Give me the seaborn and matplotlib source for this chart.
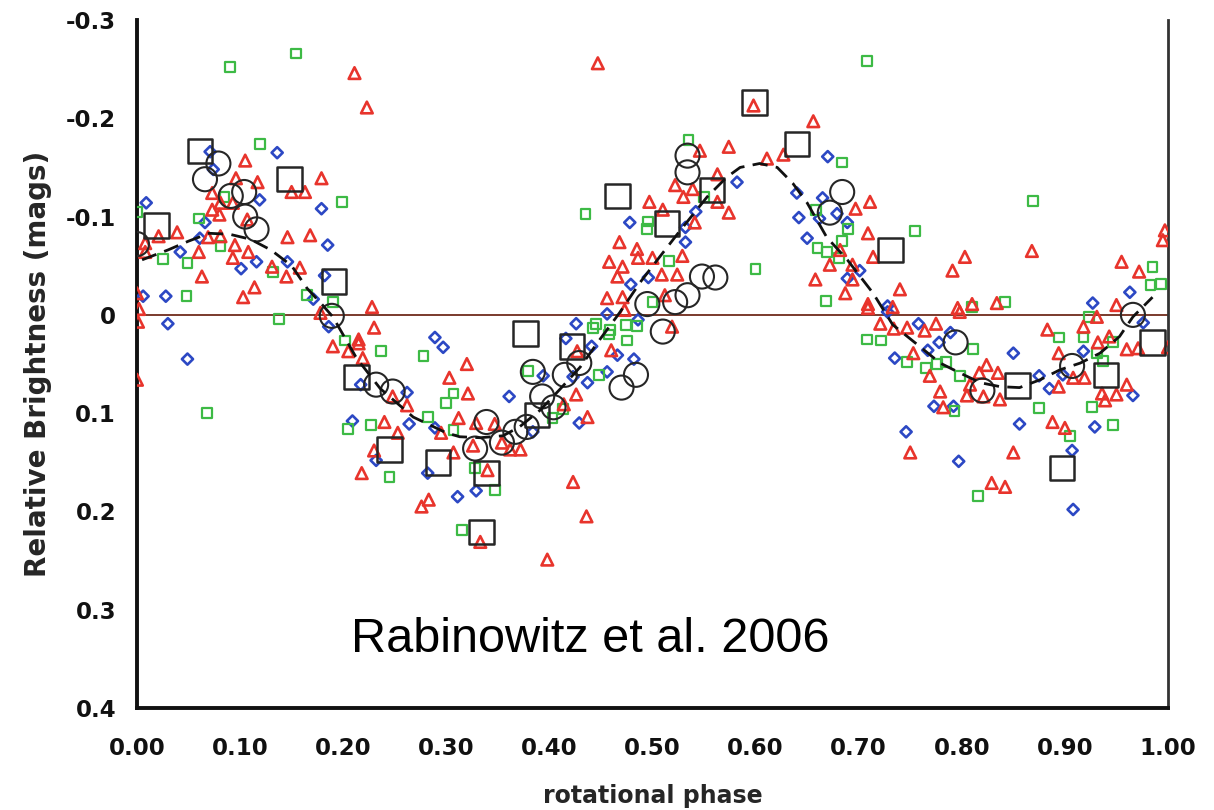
import numpy as np
import pandas as pd
import matplotlib
matplotlib.use("Agg")
import matplotlib.pyplot as plt
import seaborn as sns

# --- single-night photometry, red triangles ---
red_phase = [0.211, 0.223, 0.105, 0.096, 0.117, 0.179, 0.150, 0.163, 0.073, 0.081,
             0.093, 0.073, 0.080, 0.107, 0.039, 0.021, 0.069, 0.081, 0.146, 0.168,
             0.008, 0.008, 0.095, 0.060, 0.108, 0.093, 0.131, 0.158, 0.145, 0.063,
             0.114, 0.103, 0.000, 0.228, 0.002, 0.001, 0.000,
             0.447, 0.468, 0.497, 0.458, 0.471, 0.485, 0.486, 0.466, 0.456, 0.471,
             0.598, 0.656, 0.574, 0.546, 0.611, 0.627, 0.563, 0.522, 0.539, 0.530,
             0.510, 0.711, 0.697, 0.563, 0.574, 0.541, 0.709, 0.714, 0.500, 0.529,
             0.509, 0.524, 0.658, 0.672, 0.694, 0.694, 0.682, 0.740, 0.687, 0.709,
             0.512,
             0.997, 0.995, 0.868, 0.803, 0.791, 0.955, 0.972, 0.810, 0.834, 0.950,
             0.796,
             0.230, 0.215, 0.215, 0.190, 0.205, 0.219, 0.240, 0.230, 0.218, 0.178,
             0.320, 0.303, 0.321, 0.248, 0.262, 0.312, 0.329, 0.347, 0.295, 0.253,
             0.326, 0.354, 0.362, 0.372, 0.307, 0.340, 0.426, 0.414, 0.437, 0.423,
             0.436, 0.276, 0.283, 0.333, 0.398, 0.427, 0.460, 0.473,
             0.519, 0.721, 0.734, 0.747, 0.709, 0.733, 0.750,
             0.764, 0.775, 0.753, 0.769, 0.779, 0.805, 0.808, 0.817, 0.824, 0.835,
             0.821, 0.837, 0.782, 0.883, 0.894, 0.918, 0.931, 0.894, 0.908, 0.919,
             0.936, 0.939, 0.950, 0.960, 0.932, 0.943, 0.960, 0.971, 1.000, 0.888,
             0.900, 0.850, 0.829, 0.842, 0.798]
red_mag = [-0.246, -0.211, -0.157, -0.139, -0.135, -0.139, -0.125, -0.125, -0.124, -0.114,
           -0.114, -0.107, -0.102, -0.097, -0.084, -0.080, -0.079, -0.080, -0.079, -0.081,
           -0.073, -0.064, -0.071, -0.064, -0.064, -0.058, -0.049, -0.048, -0.039, -0.039,
           -0.028, -0.018, -0.022, -0.008, -0.006, 0.007, 0.066,
           -0.256, -0.074, -0.115, -0.054, -0.049, -0.067, -0.058, -0.039, -0.017, -0.018,
           -0.213, -0.197, -0.171, -0.167, -0.159, -0.163, -0.143, -0.132, -0.128, -0.120,
           -0.107, -0.115, -0.108, -0.115, -0.104, -0.094, -0.083, -0.059, -0.058, -0.060,
           -0.041, -0.041, -0.036, -0.051, -0.051, -0.036, -0.066, -0.026, -0.022, -0.011,
           -0.020,
           -0.086, -0.076, -0.065, -0.059, -0.045, -0.054, -0.044, -0.011, -0.012, -0.010,
           -0.007,
           0.013, 0.025, 0.029, 0.032, 0.037, 0.044, 0.109, 0.138, 0.161, -0.002,
           0.050, 0.064, 0.080, 0.083, 0.092, 0.105, 0.110, 0.111, 0.120, 0.120,
           0.133, 0.130, 0.137, 0.137, 0.140, 0.158, 0.081, 0.091, 0.104, 0.170,
           0.205, 0.195, 0.188, 0.231, 0.249, 0.037, 0.036, -0.005,
           0.012, 0.009, 0.014, 0.013, -0.007, -0.008, 0.140,
           0.016, 0.009, 0.039, 0.062, 0.078, 0.082, 0.071, 0.059, 0.051, 0.059,
           0.083, 0.086, 0.094, 0.015, 0.039, 0.012, 0.002, 0.073, 0.064, 0.064,
           0.080, 0.087, 0.081, 0.071, 0.028, 0.022, 0.035, 0.034, 0.033, 0.109,
           0.115, 0.140, 0.171, 0.175, -0.003]

# --- blue diamonds ---
blue_phase = [0.071, 0.136, 0.074, 0.119, 0.009, 0.179, 0.066, 0.185, 0.042, 0.061,
              0.116, 0.146, 0.101, 0.182, 0.006, 0.028, 0.171,
              0.478, 0.479, 0.496,
              0.670, 0.582, 0.640, 0.665, 0.679, 0.642, 0.662, 0.689, 0.542, 0.532,
              0.532, 0.650, 0.701, 0.689, 0.728,
              0.963, 0.927,
              0.030, 0.049, 0.186, 0.217, 0.209, 0.232,
              0.289, 0.297, 0.264, 0.289, 0.282, 0.311, 0.329, 0.361, 0.384, 0.394,
              0.423, 0.437, 0.429, 0.456, 0.416, 0.426, 0.441, 0.466, 0.482, 0.456,
              0.486, 0.262,
              0.735, 0.746, 0.728,
              0.758, 0.789, 0.778, 0.767, 0.850, 0.875, 0.885, 0.898, 0.918, 0.966,
              0.773, 0.792, 0.856, 0.929, 0.797, 0.907, 0.908, 0.976]
blue_mag = [-0.166, -0.165, -0.148, -0.117, -0.114, -0.108, -0.094, -0.071, -0.064, -0.078,
            -0.054, -0.054, -0.047, -0.040, -0.019, -0.019, -0.016,
            -0.094, -0.031, -0.038,
            -0.161, -0.135, -0.124, -0.119, -0.103, -0.099, -0.098, -0.094, -0.105, -0.089,
            -0.074, -0.078, -0.045, -0.037, -0.009,
            -0.023, -0.012,
            0.009, 0.045, 0.012, 0.071, 0.108, 0.148,
            0.023, 0.033, 0.111, 0.115, 0.161, 0.185, 0.179, 0.083, 0.119, 0.062,
            0.063, 0.069, 0.110, 0.058, 0.024, 0.009, 0.032, 0.041, 0.045, -0.001,
            0.005, 0.079,
            0.044, 0.119, -0.003,
            0.009, 0.018, 0.028, 0.036, 0.039, 0.062, 0.075, 0.061, 0.037, 0.082,
            0.093, 0.093, 0.111, 0.114, 0.149, 0.138, 0.198, 0.008]

# --- green squares ---
green_phase = [0.090, 0.154, 0.119, 0.199, 0.000, 0.060, 0.081, 0.025, 0.049, 0.048,
               0.165, 0.190, 0.132, 0.085,
               0.435, 0.496, 0.495,
               0.708, 0.535, 0.684, 0.550, 0.659, 0.690, 0.684, 0.660, 0.669, 0.681,
               0.516, 0.600, 0.500, 0.668,
               0.869, 0.755, 0.985, 0.983, 0.993, 0.842, 0.810,
               0.138, 0.068, 0.202, 0.237, 0.205, 0.227, 0.245,
               0.278, 0.307, 0.300, 0.282, 0.307, 0.328, 0.347, 0.315, 0.379, 0.403,
               0.413, 0.448, 0.442, 0.445, 0.459, 0.458, 0.474, 0.485, 0.475,
               0.708, 0.722, 0.747,
               0.811, 0.765, 0.776, 0.785, 0.798, 0.793, 0.875, 0.894, 0.918, 0.926,
               0.947, 0.905, 0.816, 0.923, 0.937, 0.947, 0.931]
green_mag = [-0.252, -0.266, -0.174, -0.115, -0.105, -0.098, -0.070, -0.057, -0.053, -0.019,
             -0.020, -0.013, -0.044, -0.120,
             -0.103, -0.095, -0.087,
             -0.258, -0.178, -0.155, -0.120, -0.107, -0.087, -0.075, -0.068, -0.064, -0.058,
             -0.055, -0.047, -0.013, -0.014,
             -0.116, -0.085, -0.049, -0.030, -0.031, -0.013, -0.008,
             0.004, 0.100, 0.026, 0.037, 0.116, 0.112, 0.165,
             0.042, 0.080, 0.090, 0.104, 0.117, 0.156, 0.178, 0.219, 0.057, 0.105,
             0.096, 0.061, 0.013, 0.009, 0.015, 0.020, 0.010, 0.011, 0.026,
             0.025, 0.026, 0.048,
             0.035, 0.054, 0.050, 0.048, 0.062, 0.098, 0.095, 0.023, 0.023, 0.094,
             0.112, 0.123, 0.184, 0.002, 0.047, 0.028, 0.039]

# --- binned means, open circles ---
circle_phase = [0.000, 0.066, 0.079, 0.091, 0.104, 0.105, 0.116, 0.189, 0.232, 0.248,
                0.339, 0.328, 0.354, 0.367, 0.378, 0.384, 0.393, 0.404, 0.415, 0.429,
                0.470, 0.484, 0.495, 0.510, 0.522, 0.534, 0.548, 0.561, 0.534, 0.534,
                0.672, 0.684, 0.794, 0.820, 0.907, 0.966]
circle_mag = [-0.072, -0.138, -0.154, -0.121, -0.125, -0.100, -0.087, 0.001, 0.071, 0.078,
              0.109, 0.136, 0.130, 0.119, 0.114, 0.058, 0.083, 0.094, 0.061, 0.049,
              0.074, 0.061, -0.011, 0.017, -0.013, -0.020, -0.039, -0.038, -0.145, -0.162,
              -0.104, -0.125, 0.028, 0.077, 0.052, 0.000]

# --- binned means, open squares ---
square_phase = [0.019, 0.061, 0.148, 0.191, 0.213, 0.245, 0.292, 0.334, 0.339, 0.377,
                0.388, 0.422, 0.466, 0.514, 0.558, 0.599, 0.640, 0.731, 0.854, 0.897,
                0.940, 0.985]
square_mag = [-0.091, -0.167, -0.138, -0.034, 0.063, 0.137, 0.150, 0.221, 0.161, 0.019,
              0.102, 0.032, -0.121, -0.093, -0.127, -0.216, -0.174, -0.066, 0.072, 0.156,
              0.061, 0.028]

# --- smoothed light curve ---
fit_phase = [0.005, 0.030, 0.050, 0.070, 0.090, 0.110, 0.130, 0.150, 0.165, 0.180,
             0.190, 0.213, 0.236, 0.268, 0.300, 0.313, 0.333, 0.355, 0.371, 0.391,
             0.410, 0.430, 0.449, 0.468, 0.488, 0.507, 0.527, 0.553, 0.572, 0.585,
             0.604, 0.621, 0.636, 0.650, 0.669, 0.689, 0.714, 0.733, 0.759, 0.779,
             0.798, 0.818, 0.837, 0.856, 0.876, 0.895, 0.915, 0.934, 0.953, 0.966,
             0.985]
fit_mag = [-0.056, -0.066, -0.075, -0.083, -0.082, -0.077, -0.066, -0.050, -0.027, -0.010,
           0.002, 0.044, 0.075, 0.104, 0.120, 0.124, 0.125, 0.123, 0.114, 0.097,
           0.076, 0.053, 0.025, -0.002, -0.033, -0.059, -0.086, -0.120, -0.140, -0.150,
           -0.154, -0.150, -0.134, -0.114, -0.079, -0.056, -0.022, 0.010, 0.032, 0.049,
           0.059, 0.069, 0.073, 0.074, 0.066, 0.056, 0.049, 0.039, 0.022, 0.002,
           -0.018]

x_ticks = [0.0, 0.1, 0.2, 0.3, 0.4, 0.5, 0.6, 0.7, 0.8, 0.9, 1.0]
y_ticks = [-0.3, -0.2, -0.1, 0.0, 0.1, 0.2, 0.3, 0.4]
y_tick_labels = ["-0.3", "-0.2", "-0.1", "0", "0.1", "0.2", "0.3", "0.4"]

RED = "#e8342c"
BLUE = "#2c48c4"
GREEN = "#3dba45"
DARK = "#262626"

sns.set_style("white")
plt.rcParams["font.family"] = ["DejaVu Sans"]

fig = plt.figure(figsize=(12.14, 8.10), dpi=100)
ax = fig.add_axes([0.1128, 0.1259, 0.8493, 0.8494])

ax.axhline(0.0, color="#7a3a2c", lw=1.4, zorder=1)

def hollow(xs, ys, marker, size, color, lw, z):
    df = pd.DataFrame({"phase": xs, "mag": ys})
    sns.scatterplot(data=df, x="phase", y="mag", marker=marker, s=size,
                    color=color, facecolor="none", edgecolor=color,
                    linewidth=lw, ax=ax, zorder=z, legend=False)

hollow(blue_phase, blue_mag, "D", 32, BLUE, 1.9, 3)
hollow(green_phase, green_mag, "s", 50, GREEN, 1.6, 3)
hollow(red_phase, red_mag, "^", 70, RED, 1.9, 4)
hollow(circle_phase, circle_mag, "o", 300, DARK, 1.5, 5)
hollow(square_phase, square_mag, "s", 310, DARK, 1.8, 5)

fit_df = pd.DataFrame({"phase": fit_phase, "mag": fit_mag})
sns.lineplot(data=fit_df, x="phase", y="mag", ax=ax, color="#111111", lw=2.0,
             dashes=False, linestyle=(0, (5.5, 3)), zorder=6, estimator=None, sort=False)

ax.set_xlim(0.0, 1.0)
ax.set_ylim(0.4, -0.3)
ax.set_xticks(x_ticks)
ax.set_xticklabels([f"{t:.2f}" for t in x_ticks])
ax.set_yticks(y_ticks)
ax.set_yticklabels(y_tick_labels)

for lab in ax.get_xticklabels() + ax.get_yticklabels():
    lab.set_fontweight("heavy")
    lab.set_fontsize(16.5)
    lab.set_color("#111111")

ax.tick_params(axis="both", direction="out", length=8, width=2, color="#111111")
ax.tick_params(axis="x", pad=13)
ax.tick_params(axis="y", pad=7)

ax.spines["top"].set_visible(False)
for side in ["left", "bottom"]:
    ax.spines[side].set_linewidth(2.8)
    ax.spines[side].set_color("#111111")
ax.spines["right"].set_linewidth(2.0)
ax.spines["right"].set_color("#333333")

ax.set_xlabel("rotational phase", fontsize=17, fontweight="bold", labelpad=17)
ax.set_ylabel("Relative Brightness (mags)", fontsize=20, fontweight="bold", labelpad=10)

ax.text(0.44, 0.099, "Rabinowitz et al. 2006", transform=ax.transAxes,
        ha="center", va="center", fontsize=35, family=["Liberation Sans", "DejaVu Sans"],
        color="black", zorder=7)

fig.savefig("out.png", dpi=100, facecolor="white")
